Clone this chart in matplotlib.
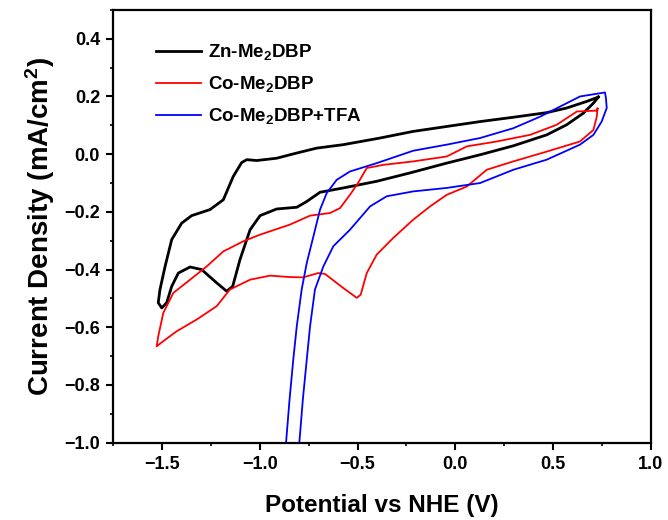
import matplotlib
matplotlib.use('Agg')
import matplotlib.pyplot as plt
from matplotlib.ticker import MultipleLocator

plt.rcParams['font.family'] = 'Liberation Sans'
plt.rcParams['font.weight'] = 'bold'
plt.rcParams['mathtext.fontset'] = 'custom'
plt.rcParams['mathtext.rm'] = 'Liberation Sans:bold'
plt.rcParams['mathtext.bf'] = 'Liberation Sans:bold'
plt.rcParams['mathtext.default'] = 'bf'

# Zn-Me2DBP cyclic voltammogram (closed loop: upper branch right->left, lower branch left->right)
zn_x = [0.732, 0.673, 0.570, 0.468, 0.297, 0.127, -0.044, -0.215, -0.385, -0.573, -0.709,
        -0.811, -0.914, -1.016, -1.067, -1.093, -1.136, -1.187, -1.255, -1.349, -1.400,
        -1.451, -1.485, -1.511, -1.520,
        -1.502, -1.477, -1.451, -1.417, -1.357, -1.298, -1.221, -1.170, -1.139, -1.102,
        -1.050, -0.999, -0.914, -0.811, -0.760, -0.692, -0.573, -0.402, -0.232, -0.044,
        0.127, 0.297, 0.468, 0.570, 0.655, 0.707, 0.732]
zn_y = [0.198, 0.183, 0.160, 0.144, 0.128, 0.113, 0.096, 0.079, 0.056, 0.033, 0.021,
        0.004, -0.014, -0.022, -0.019, -0.029, -0.077, -0.158, -0.192, -0.213, -0.239,
        -0.296, -0.389, -0.469, -0.515,
        -0.533, -0.515, -0.458, -0.412, -0.391, -0.400, -0.446, -0.475, -0.458, -0.366,
        -0.262, -0.213, -0.190, -0.184, -0.164, -0.132, -0.117, -0.094, -0.065, -0.031,
        -0.002, 0.029, 0.067, 0.102, 0.142, 0.177, 0.198]

# Co-Me2DBP
co_x = [0.728, 0.724, 0.622, 0.519, 0.383, 0.212, 0.059, -0.044, -0.215, -0.368, -0.453,
        -0.496, -0.539, -0.590, -0.641, -0.743, -0.846, -0.999, -1.085, -1.187, -1.272,
        -1.357, -1.443, -1.494, -1.520, -1.528,
        -1.494, -1.426, -1.323, -1.221, -1.153, -1.050, -0.948, -0.846, -0.778, -0.701,
        -0.667, -0.573, -0.504, -0.484, -0.453, -0.402, -0.317, -0.215, -0.129, -0.044,
        0.059, 0.161, 0.297, 0.468, 0.638, 0.707, 0.724, 0.728]
co_y = [0.158, 0.151, 0.148, 0.102, 0.067, 0.044, 0.027, -0.008, -0.025, -0.037, -0.048,
        -0.098, -0.141, -0.187, -0.204, -0.213, -0.244, -0.279, -0.302, -0.337, -0.389,
        -0.435, -0.481, -0.550, -0.631, -0.666,
        -0.648, -0.614, -0.573, -0.527, -0.469, -0.435, -0.421, -0.426, -0.427, -0.412,
        -0.415, -0.464, -0.498, -0.487, -0.412, -0.348, -0.290, -0.227, -0.181, -0.141,
        -0.112, -0.054, -0.025, 0.009, 0.044, 0.084, 0.130, 0.158]

# Co-Me2DBP + TFA
tfa_x = [-0.866, -0.848, -0.829, -0.811, -0.786, -0.760, -0.726, -0.692, -0.658, -0.607,
         -0.539, -0.402, -0.215, -0.044, 0.127, 0.297, 0.434, 0.536, 0.638, 0.766, 0.771,
         0.775, 0.749, 0.707, 0.638, 0.468, 0.297, 0.127, -0.044, -0.215, -0.351, -0.436,
         -0.539, -0.624, -0.675, -0.718, -0.743, -0.760, -0.780, -0.798]
tfa_y = [-1.0, -0.85, -0.712, -0.596, -0.469, -0.377, -0.285, -0.192, -0.135, -0.089,
         -0.060, -0.031, 0.012, 0.033, 0.056, 0.090, 0.130, 0.165, 0.200, 0.214, 0.194,
         0.160, 0.113, 0.067, 0.033, -0.019, -0.054, -0.100, -0.117, -0.129, -0.146, -0.181,
         -0.262, -0.319, -0.389, -0.469, -0.596, -0.712, -0.85, -1.0]

fig = plt.figure(figsize=(6.68, 5.2), dpi=100)
ax = fig.add_axes([0.1696, 0.1487, 0.8045, 0.8322])

ax.plot(zn_x, zn_y, color='black', lw=2.0, label=r'Zn-Me$_2$DBP')
ax.plot(co_x, co_y, color='#ff0000', lw=1.3, label=r'Co-Me$_2$DBP')
ax.plot(tfa_x, tfa_y, color='#0000ff', lw=1.3, label=r'Co-Me$_2$DBP+TFA')

ax.set_xlim(-1.75, 1.0)
ax.set_ylim(-1.0, 0.5)
ax.xaxis.set_major_locator(MultipleLocator(0.5))
ax.xaxis.set_minor_locator(MultipleLocator(0.25))
ax.yaxis.set_minor_locator(MultipleLocator(0.1))
ax.set_yticks([-1.0, -0.8, -0.6, -0.4, -0.2, 0.0, 0.2, 0.4])
ax.tick_params(which='major', direction='out', length=5, width=1.5, labelsize=13, pad=4.5)
ax.tick_params(which='minor', direction='out', length=2.5, width=1.2)
for s in ax.spines.values():
    s.set_linewidth(1.6)

ax.set_xlabel('Potential vs NHE (V)', fontsize=17.5, fontweight='bold', labelpad=15)
ax.set_ylabel(r'Current Density (mA/cm$^2$)', fontsize=20, fontweight='bold', labelpad=5)

ax.legend(loc='upper left', bbox_to_anchor=(0.08, 0.925), frameon=False, fontsize=13.5,
          handlelength=2.4, handletextpad=0.35, labelspacing=0.64, borderaxespad=0,
          borderpad=0)

fig.savefig('out.png', dpi=100)
